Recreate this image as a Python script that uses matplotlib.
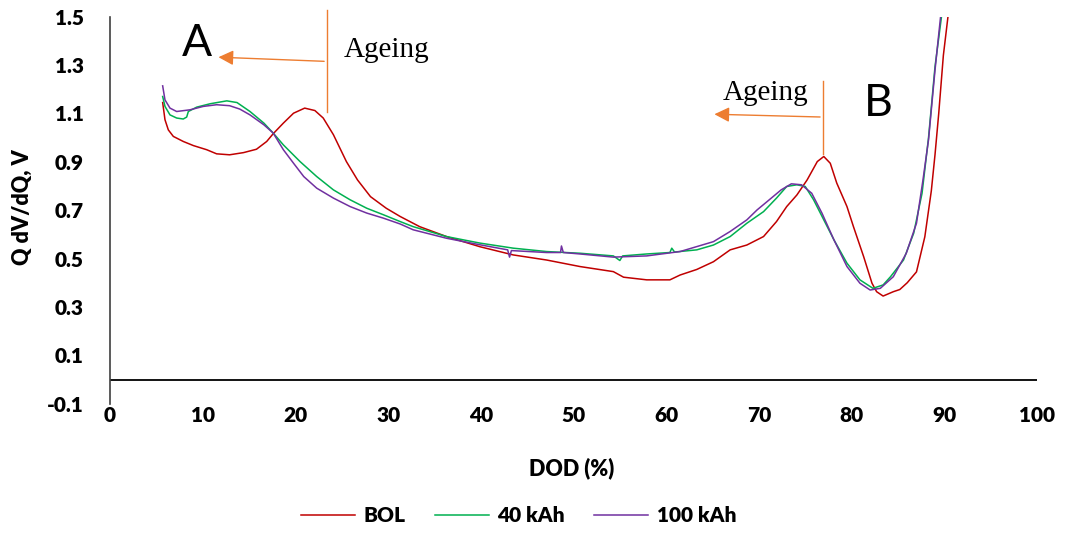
import matplotlib
matplotlib.use('Agg')
import matplotlib.pyplot as plt

plt.rcParams['font.family'] = ['Lato', 'DejaVu Sans']

bol_x = [5.68, 5.93, 6.29, 6.83, 7.91, 9.0, 10.43, 11.5, 12.9, 14.4, 15.8, 16.9, 17.6, 18.7, 19.8,
         21.0, 22.1, 23.0, 24.1, 25.5, 26.7, 28.1, 29.8, 31.3, 33.4, 36.3, 39.9, 43.5, 47.1, 50.7,
         54.3, 55.4, 57.9, 60.4, 61.5, 63.3, 65.1, 66.9, 68.7, 70.5, 71.9, 73.0, 74.1, 75.2, 76.3,
         77.0, 77.7, 78.4, 79.5, 80.2, 81.3, 82.2, 82.7, 83.4, 84.5, 85.2, 86.0, 87.0, 87.9, 88.6,
         89.0, 89.4, 89.9, 90.4, 90.8]
bol_y = [1.145, 1.074, 1.032, 1.005, 0.984, 0.967, 0.950, 0.933, 0.929, 0.938, 0.952, 0.984, 1.016,
         1.060, 1.101, 1.122, 1.112, 1.081, 1.012, 0.901, 0.825, 0.756, 0.708, 0.674, 0.632, 0.591,
         0.549, 0.515, 0.494, 0.467, 0.446, 0.423, 0.412, 0.412, 0.432, 0.455, 0.487, 0.536, 0.556,
         0.591, 0.653, 0.715, 0.763, 0.825, 0.901, 0.922, 0.894, 0.812, 0.715, 0.632, 0.508, 0.398,
         0.363, 0.345, 0.363, 0.372, 0.400, 0.445, 0.590, 0.780, 0.930, 1.100, 1.340, 1.501, 1.65]

k40_x = [5.68, 5.93, 6.47, 7.19, 7.9, 8.27, 8.45, 9.35, 10.8, 12.6, 13.7, 15.1, 16.6, 17.6, 18.7,
         20.5, 22.3, 24.1, 25.9, 27.7, 29.5, 31.3, 32.7, 36.3, 39.9, 43.5, 47.1, 50.7, 54.3, 55.0,
         55.3, 57.9, 60.4, 60.6, 60.9, 63.3, 65.1, 66.9, 68.7, 70.5, 71.9, 73.0, 74.1, 75.0, 75.9,
         77.0, 78.1, 79.5, 80.9, 82.3, 83.4, 84.2, 85.6, 86.7, 87.6, 88.3, 89.0, 89.7, 90.0]
k40_y = [1.170, 1.129, 1.094, 1.081, 1.077, 1.085, 1.108, 1.126, 1.140, 1.152, 1.145, 1.108, 1.060,
         1.019, 0.970, 0.901, 0.839, 0.784, 0.743, 0.708, 0.681, 0.653, 0.632, 0.591, 0.564, 0.543,
         0.529, 0.522, 0.511, 0.492, 0.511, 0.519, 0.525, 0.543, 0.527, 0.536, 0.556, 0.591, 0.646,
         0.694, 0.750, 0.798, 0.805, 0.798, 0.743, 0.660, 0.577, 0.481, 0.412, 0.377, 0.391, 0.425,
         0.494, 0.605, 0.770, 1.000, 1.294, 1.501, 1.62]

k100_x = [5.68, 5.93, 6.47, 7.19, 8.63, 10.06, 11.5, 12.9, 14.0, 15.1, 16.6, 17.6, 18.7, 19.8, 20.9,
          22.3, 24.1, 25.9, 27.7, 29.5, 31.3, 32.7, 36.3, 39.9, 42.9, 43.1, 43.3, 47.1, 48.6, 48.7,
          48.9, 50.7, 54.3, 57.9, 61.5, 65.1, 66.9, 68.7, 69.8, 70.9, 72.4, 73.5, 74.6, 75.7, 76.8,
          78.1, 79.5, 80.9, 82.0, 83.1, 84.5, 85.9, 87.0, 87.7, 88.3, 89.0, 89.6, 89.9]
k100_y = [1.214, 1.156, 1.122, 1.108, 1.115, 1.129, 1.136, 1.132, 1.118, 1.094, 1.053, 1.019, 0.950,
          0.894, 0.839, 0.791, 0.750, 0.715, 0.688, 0.667, 0.643, 0.619, 0.584, 0.557, 0.536, 0.506,
          0.533, 0.525, 0.525, 0.552, 0.525, 0.519, 0.506, 0.511, 0.529, 0.570, 0.612, 0.660, 0.701,
          0.736, 0.784, 0.809, 0.805, 0.770, 0.688, 0.577, 0.467, 0.398, 0.370, 0.377, 0.425, 0.522,
          0.646, 0.825, 0.991, 1.280, 1.500, 1.62]

labels = ['BOL', '40 kAh', '100 kAh']
colors = ['#C00000', '#00B050', '#7030A0']

fig = plt.figure(figsize=(10.65, 5.33), dpi=100)
ax = fig.add_axes([0.1033, 0.2426, 0.8704, 0.7261])

ax.plot(bol_x, bol_y, color=colors[0], lw=1.1, label=labels[0])
ax.plot(k40_x, k40_y, color=colors[1], lw=1.1, label=labels[1])
ax.plot(k100_x, k100_y, color=colors[2], lw=1.1, label=labels[2])

ax.set_xlim(0, 100)
ax.set_ylim(-0.1, 1.5)
ax.set_xticks(range(0, 101, 10))
ax.set_yticks([-0.1, 0.1, 0.3, 0.5, 0.7, 0.9, 1.1, 1.3, 1.5])
ax.set_yticklabels(['-0.1', '0.1', '0.3', '0.5', '0.7', '0.9', '1.1', '1.3', '1.5'])
ax.tick_params(axis='both', length=0, labelsize=15)
ax.tick_params(axis='y', pad=19)
ax.tick_params(axis='x', pad=2)
for lab in ax.get_xticklabels() + ax.get_yticklabels():
    lab.set_fontweight('heavy')

for s in ['top', 'right', 'bottom']:
    ax.spines[s].set_visible(False)
ax.spines['left'].set_color('#404040')
ax.spines['left'].set_linewidth(1.2)
ax.axhline(0, color='black', lw=1.3)

ax.set_xlabel('DOD (%)', fontsize=15.5, fontweight='heavy')
ax.set_ylabel('Q dV/dQ, V', fontsize=15.5, fontweight='heavy')
ax.xaxis.set_label_coords(0.498, -0.138)
ax.yaxis.set_label_coords(-0.083, 0.508)

# annotations
orange = '#ED7D31'
ax.plot([23.4, 23.4], [1.104, 1.529], color=orange, lw=1, clip_on=False)
ax.annotate('', xy=(11.4, 1.333), xytext=(23.4, 1.315),
            arrowprops=dict(arrowstyle='-|>,head_length=0.9,head_width=0.45', color=orange, lw=1))
ax.text(25.2, 1.364, 'Ageing', fontsize=21, family='Liberation Serif', va='center', ha='left')
ax.text(9.35, 1.391, 'A', fontsize=32, va='center', ha='center')

ax.plot([76.9, 76.9], [0.932, 1.235], color=orange, lw=1)
ax.annotate('', xy=(64.9, 1.097), xytext=(76.9, 1.085),
            arrowprops=dict(arrowstyle='-|>,head_length=0.9,head_width=0.45', color=orange, lw=1))
ax.text(66.1, 1.184, 'Ageing', fontsize=21, family='Liberation Serif', va='center', ha='left')
ax.text(82.9, 1.14, 'B', fontsize=32, va='center', ha='center')

leg = fig.legend(loc='center', bbox_to_anchor=(0.487, 0.032), ncol=3, frameon=False,
                 handlelength=2.6, handletextpad=0.4, columnspacing=1.4,
                 prop={'weight': 'heavy', 'size': 15})

fig.savefig('out.png', dpi=100)
